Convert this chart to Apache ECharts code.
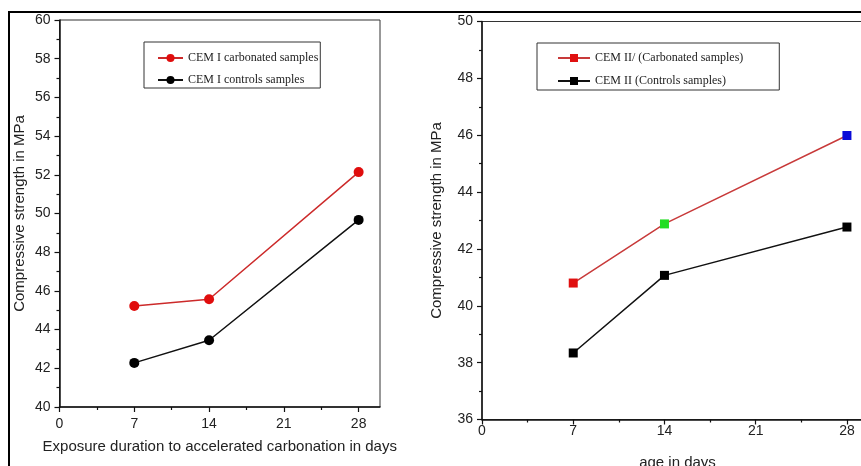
<!DOCTYPE html>
<html>
<head>
<meta charset="utf-8">
<script src="https://cdn.jsdelivr.net/npm/echarts@6/dist/echarts.min.js"></script>
<style>
html,body{margin:0;padding:0;background:#fff;}
#c{width:861px;height:466px;}
</style>
</head>
<body>
<div id="c"></div>
<script>
// Left chart data (CEM I)
const daysA = [7, 14, 28];
const cem1Carbonated = [45.22, 45.57, 52.14];
const cem1Controls = [42.28, 43.45, 49.67];
// Right chart data (CEM II)
const daysB = [7, 14, 28];
const cem2Carbonated = [40.80, 42.88, 45.99];
const cem2CarbonatedColors = ['#e01010', '#22dd22', '#0a0ad8'];
const cem2Controls = [38.34, 41.07, 42.77];
// Tick labels
const xTicks = [0, 7, 14, 21, 28];

const seriesNames = {
  a1: 'CEM I carbonated samples',
  a2: 'CEM I controls samples',
  b1: 'CEM II/ (Carbonated samples)',
  b2: 'CEM II (Controls samples)'
};

const sans = 'Liberation Sans, Arial, sans-serif';
const serif = 'Liberation Serif, Times New Roman, serif';

function pairs(xs, ys) { return xs.map((x, i) => [x, ys[i]]); }

function xAxis(gridIndex, max, name, nameGap, labelMargin) {
  return {
    type: 'value', gridIndex, min: 0, max, interval: 7,
    name, nameLocation: 'middle', nameGap, nameMoveOverlap: false,
    nameTextStyle: { fontFamily: sans, fontSize: 15, color: '#222' },
    axisLine: { show: true, onZero: false, lineStyle: { color: '#111', width: 1.5 } },
    axisTick: { show: true, length: 5, lineStyle: { color: '#111', width: 1.2 }, customValues: xTicks },
    minorTick: { show: true, splitNumber: 2, length: 3, lineStyle: { color: '#111', width: 1.2 } },
    axisLabel: { customValues: xTicks, fontFamily: sans, fontSize: 14, color: '#222', margin: labelMargin },
    splitLine: { show: false }
  };
}
function yAxis(gridIndex, min, max, name, nameGap) {
  return {
    type: 'value', gridIndex, min, max, interval: 2,
    name, nameLocation: 'middle', nameGap, nameMoveOverlap: false,
    nameTextStyle: { fontFamily: sans, fontSize: 15, color: '#222' },
    axisLine: { show: true, onZero: false, lineStyle: { color: '#111', width: 1.5 } },
    axisTick: { show: true, length: 5, lineStyle: { color: '#111', width: 1.2 } },
    minorTick: { show: true, splitNumber: 2, length: 3, lineStyle: { color: '#111', width: 1.2 } },
    axisLabel: { fontFamily: sans, fontSize: 14, color: '#222', margin: 9 },
    splitLine: { show: false }
  };
}

const chart = echarts.init(document.getElementById('c'), null, { renderer: 'canvas' });
chart.setOption({
  animation: false,
  backgroundColor: '#fff',
  grid: [
    { left: 59.5, top: 20, width: 320.5, height: 387, outerBoundsMode: 'none', containLabel: false,
      show: true, borderColor: '#333', borderWidth: 1, backgroundColor: 'transparent' },
    { left: 482, top: 21.5, width: 391, height: 398, outerBoundsMode: 'none', containLabel: false,
      show: true, borderColor: '#333', borderWidth: 1, backgroundColor: 'transparent' }
  ],
  xAxis: [
    xAxis(0, 30, 'Exposure duration to accelerated carbonation in days', 32, 10),
    xAxis(1, 30, 'age in days', 36, 5)
  ],
  yAxis: [
    yAxis(0, 40, 60, 'Compressive strength in MPa', 32),
    yAxis(1, 36, 50, 'Compressive strength in MPa', 38)
  ],
  legend: [
    {
      left: 144, top: 42, orient: 'vertical', itemGap: 10, itemWidth: 25, itemHeight: 10,
      padding: [10, 2, 2, 13],
      borderColor: '#333', borderWidth: 1, backgroundColor: '#fff',
      textStyle: { fontFamily: serif, fontSize: 12, color: '#222' },
      data: [seriesNames.a1, seriesNames.a2]
    },
    {
      left: 537, top: 43, orient: 'vertical', itemGap: 11, itemWidth: 32, itemHeight: 10,
      padding: [9, 36, 3, 20],
      borderColor: '#333', borderWidth: 1, backgroundColor: '#fff',
      textStyle: { fontFamily: serif, fontSize: 12, color: '#222' },
      data: [seriesNames.b1, seriesNames.b2]
    }
  ],
  series: [
    {
      name: seriesNames.a1, type: 'line', xAxisIndex: 0, yAxisIndex: 0,
      data: pairs(daysA, cem1Carbonated),
      symbol: 'circle', symbolSize: 10,
      lineStyle: { color: '#cc2a2a', width: 1.5 },
      itemStyle: { color: '#e00d0d' }
    },
    {
      name: seriesNames.a2, type: 'line', xAxisIndex: 0, yAxisIndex: 0,
      data: pairs(daysA, cem1Controls),
      symbol: 'circle', symbolSize: 10,
      lineStyle: { color: '#111', width: 1.5 },
      itemStyle: { color: '#000' }
    },
    {
      name: seriesNames.b1, type: 'line', xAxisIndex: 1, yAxisIndex: 1,
      data: pairs(daysB, cem2Carbonated).map((p, i) => ({ value: p, itemStyle: { color: cem2CarbonatedColors[i] } })),
      symbol: 'rect', symbolSize: 9,
      lineStyle: { color: '#c83a3a', width: 1.5 },
      itemStyle: { color: '#e01010' }
    },
    {
      name: seriesNames.b2, type: 'line', xAxisIndex: 1, yAxisIndex: 1,
      data: pairs(daysB, cem2Controls),
      symbol: 'rect', symbolSize: 9,
      lineStyle: { color: '#111', width: 1.5 },
      itemStyle: { color: '#000' }
    }
  ],
  graphic: [
    {
      type: 'polyline', silent: true,
      shape: { points: [[9, 470], [9, 12], [870, 12]] },
      style: { stroke: '#000', lineWidth: 2, fill: null }
    }
  ]
});
</script>
</body>
</html>
